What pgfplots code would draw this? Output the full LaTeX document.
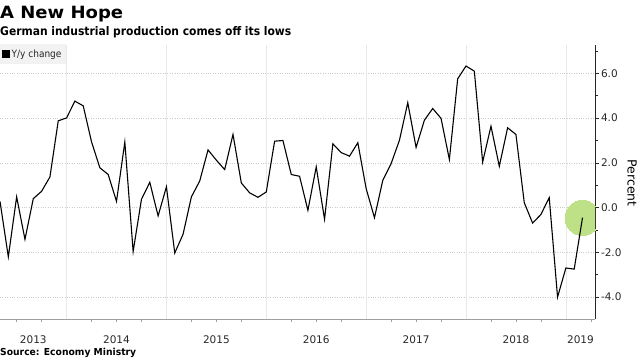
\documentclass[border=0pt]{standalone}
\usepackage{fontspec}
\setmainfont{DejaVu Sans}
\newfontfamily\cond{DejaVu Sans Condensed}
\usepackage{graphicx}
\usepackage{pgfplots}
\pgfplotsset{compat=1.18}
\definecolor{hl}{RGB}{190,225,135}
\definecolor{tickgray}{RGB}{40,40,40}

\begin{document}
\begin{tikzpicture}
\useasboundingbox (0,0) rectangle (640bp,360bp);
\begin{axis}[
  at={(0bp,41bp)}, anchor=south west, scale only axis,
  width=595bp, height=274bp,
  xmin=4, xmax=75.5, ymin=-4.98, ymax=7.27,
  axis x line*=bottom, axis y line*=right,
  x axis line style={gray!75, line width=0.8bp},
  y axis line style={black!85, line width=0.8bp},
  xtick={8,18,30,42,54,66,73.75},
  xticklabels={2013,2014,2015,2016,2017,2018,2019},
  major x tick style={draw=none},
  minor xtick={6,9,15,18,21,27,30,33,39,42,45,51,54,57,63,66,69,75},
  minor x tick style={gray!75, line width=0.6bp},
  tick align=outside,
  major tick length=4bp, minor tick length=2.5bp,
  extra x ticks={12,24,36,48,60,72},
  extra x tick labels={},
  extra x tick style={xmajorgrids=true, major tick length=28bp, tick style={gray!25, line width=0.7bp}},
  every axis x grid/.style={gray!18, line width=0.7bp},
  ytick={-4,-2,...,6},
  minor ytick={-3,-1,1,3,5,7},
  ymajorgrids,
  every axis y grid/.style={gray!40, dotted, line width=0.6bp},
  y tick style={black!85, line width=0.6bp},
  yticklabel={\pgfmathprintnumber[fixed,fixed zerofill,precision=1,assume math mode=true]{\tick}},
  yticklabel style={font=\fontsize{10.5bp}{12bp}\selectfont, text=tickgray, xshift=-1.5bp},
  xticklabel style={font=\fontsize{10.5bp}{12bp}\selectfont, text=tickgray, yshift=-9bp},
  clip marker paths=true,
  legend style={at={(0,1)}, anchor=north west, yshift=1bp, fill=gray!10, draw=none,
    font=\cond\fontsize{10bp}{12bp}\selectfont, text=black!85, inner xsep=2bp, inner ysep=3.5bp},
  legend image code/.code={\fill[black] (0bp,-3.2bp) rectangle (6.4bp,3.2bp);},
  legend cell align=left,
]
\addplot[forget plot, only marks, draw=hl, fill=hl, mark=*, mark size=17.5bp, mark options={fill=hl, draw=hl, line width=0pt}] coordinates {(74,-0.46)};
\addplot[black, line width=1.1bp, mark=none] coordinates {
(4,0.28) (5,-2.2) (6,0.48) (7,-1.42) (8,0.40) (9,0.73) (10,1.37) (11,3.88)
(12,4.01) (13,4.76) (14,4.55) (15,2.94) (16,1.78) (17,1.48) (18,0.28) (19,2.93)
(20,-1.96) (21,0.37) (22,1.13) (23,-0.37) (24,0.93) (25,-2.03) (26,-1.19) (27,0.48)
(28,1.19) (29,2.58) (30,2.12) (31,1.70) (32,3.27) (33,1.10) (34,0.66) (35,0.46)
(36,0.70) (37,2.97) (38,3.00) (39,1.48) (40,1.40) (41,-0.12) (42,1.82) (43,-0.52)
(44,2.85) (45,2.46) (46,2.30) (47,2.90) (48,0.85) (49,-0.45) (50,1.22) (51,1.97)
(52,3.01) (53,4.69) (54,2.69) (55,3.91) (56,4.43) (57,3.99) (58,2.15) (59,5.76)
(60,6.33) (61,6.10) (62,2.04) (63,3.64) (64,1.85) (65,3.57) (66,3.27) (67,0.22)
(68,-0.69) (69,-0.31) (70,0.45) (71,-4.00) (72,-2.70) (73,-2.75) (74,-0.45)
};
\addlegendentry{Y/y change}
\end{axis}
\node[anchor=base west, inner sep=0pt] at (0bp,341bp) {\resizebox{123bp}{12.3bp}{\bfseries A New Hope}};
\node[anchor=base west, inner sep=0pt] at (0bp,324.3bp) {\resizebox{291bp}{9bp}{\bfseries German industrial production comes off its lows}};
\node[anchor=base west, inner sep=0pt] at (0bp,4.3bp) {\resizebox{136bp}{7.3bp}{\bfseries Source: Economy Ministry}};
\node[rotate=-90, anchor=center, inner sep=0pt, font=\fontsize{12.5bp}{14bp}\selectfont] at (632bp,177bp) {Percent};
\end{tikzpicture}
\end{document}
